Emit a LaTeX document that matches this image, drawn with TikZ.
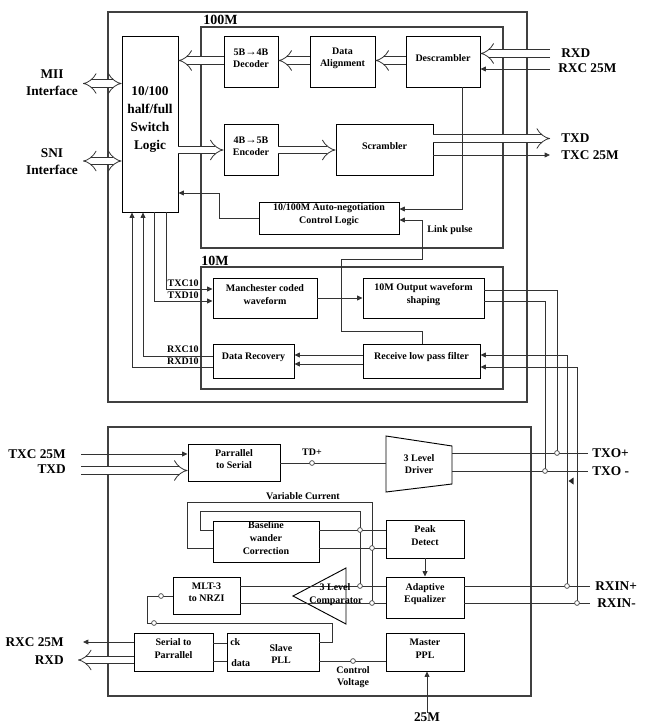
\documentclass[tikz,border=0pt]{standalone}
\usepackage{fontspec}
\setmainfont{Liberation Serif}
\usetikzlibrary{arrows.meta,fit,calc}
\begin{document}
\begin{tikzpicture}[x=0.75pt,y=-0.75pt,
 box/.style={draw=black, line width=0.7pt, inner sep=0pt, align=center, font=\bfseries\fontsize{7.5}{9.5}\selectfont},
 shp/.style={draw=black, line width=0.7pt},
 grp/.style={draw=black!75, line width=0.8pt},
 big/.style={font=\bfseries\fontsize{10}{12.75}\selectfont, align=center, inner sep=0pt},
 hdr/.style={font=\bfseries\fontsize{10.5}{12}\selectfont, inner sep=0pt},
 sm/.style={font=\bfseries\fontsize{7.5}{9.5}\selectfont, align=center, inner sep=0pt},
 ln/.style={draw=black!80, line width=0.6pt},
 arr/.style={ln, -{Triangle[length=4pt,width=3.6pt]}},
 dbl/.style={draw=black!80, line width=0.6pt, double, double distance=5pt, -{Implies}},
 dbl2/.style={draw=black!80, line width=0.6pt, double, double distance=5pt, {Implies}-{Implies}},
 dot/.style={circle, draw=black!75, fill=white, line width=0.5pt, inner sep=0pt, minimum size=3.6pt},
]
\useasboundingbox (0,0) rectangle (649,723);

% ---------- group boxes ----------
\draw[grp] (108,12) rectangle (527,402);
\draw[grp] (201,27) rectangle (503,248);
\draw[grp] (201,267) rectangle (503,389);
\draw[grp] (108,427) rectangle (531,696);
\node[hdr, anchor=base west] (h100) at (203,25) {100M};
\node[hdr, anchor=base west] (h10) at (201,265) {10M};

% ---------- top blocks ----------
\node[box, fit={(122,36)(178,212)}, font=\bfseries\fontsize{10}{13.5}\selectfont] (sw) {10/100\\half/full\\Switch\\Logic};
\node[box, fit={(224,36)(278,87)}] (dec) {5B{\fontsize{8.5}{9}\selectfont→}4B\\Decoder};
\node[box, fit={(310,36)(375,87)}] (dal) {Data\\Alignment};
\node[box, fit={(406,36)(480,87)}] (des) {Descrambler};
\node[box, fit={(224,124)(278,175)}] (enc) {4B{\fontsize{8.5}{9}\selectfont→}5B\\Encoder};
\node[box, fit={(336,124)(433,175)}] (scr) {Scrambler};
\node[box, fit={(259,202)(399,234)}] (an) {10/100M Auto-negotiation\\Control Logic};
\node[box, fit={(213,278)(317,318)}] (man) {Manchester coded\\waveform};
\node[box, fit={(363,278)(484,318)}] (ows) {10M Output waveform\\shaping};
\node[box, fit={(213,344)(294,378)}] (drec) {Data Recovery};
\node[box, fit={(363,344)(480,378)}] (rlp) {Receive low pass filter};

% ---------- top labels ----------
\node[big] (mii) at (52,82.5) {MII\\Interface};
\node[big] (sni) at (52,162) {SNI\\Interface};
\node[big, anchor=west] (lrxd) at (561,53) {RXD};
\node[big, anchor=west] (lrxc) at (558,68) {RXC 25M};
\node[big, anchor=west] (ltxd) at (561,138) {TXD};
\node[big, anchor=west] (ltxc) at (561,155) {TXC 25M};
\node[sm] (lp) at (450,230) {Link pulse};
\node[sm, anchor=east] (ltxc10) at (199,283) {TXC10};
\node[sm, anchor=east] (ltxd10) at (199,295) {TXD10};
\node[sm, anchor=east] (lrxc10) at (199,349) {RXC10};
\node[sm, anchor=east] (lrxd10) at (199,361) {RXD10};

% ---------- top connectors ----------
\coordinate (miiE) at (83,83.5);
\coordinate (sniE) at (83,161);
\draw[dbl2] (miiE) -- (sw.west |- miiE);
\draw[dbl2] (sniE) -- (sw.west |- sniE);
\draw[dbl] (dec.west |- 0,60.5) -- (sw.east |- 0,60.5);
\draw[dbl] (dal.west |- 0,60.5) -- (dec.east |- 0,60.5);
\draw[dbl] (des.west |- 0,60.5) -- (dal.east |- 0,60.5);
\coordinate (rxdE) at (550,53.5);
\coordinate (rxcE) at (550,69);
\draw[dbl] (rxdE) -- (des.east |- rxdE);
\draw[arr] (rxcE) -- (des.east |- rxcE);
\draw[dbl] (sw.east |- 0,150) -- (enc.west |- 0,150);
\draw[dbl] (enc.east |- 0,150) -- (scr.west |- 0,150);
\coordinate (txdE) at (550,138.5);
\coordinate (txcE) at (550,155);
\draw[dbl] (scr.east |- txdE) -- (txdE);
\draw[arr] (scr.east |- txcE) -- (txcE);
\draw[arr] (des.south -| 462,0) -- (462,209) -- (an.east |- 0,209);
\draw[arr] (an.west |- 0,218) -- (219,218) -- (219,193) -- (sw.east |- 0,193);
\draw[arr] (rlp.north -| 422,0) -- (422,331) -- (341,331) -- (341,259) -- (422,259) -- (422,220) -- (an.east |- 0,220);
% 10M <-> switch
\draw[arr] (drec.west |- 0,367) -- (132,367) -- (sw.south -| 132,0);
\draw[arr] (drec.west |- 0,356) -- (143,356) -- (sw.south -| 143,0);
\draw[arr] (sw.south -| 154,0) -- (154,301) -- (man.west |- 0,301);
\draw[arr] (sw.south -| 166,0) -- (166,289) -- (man.west |- 0,289);
\draw[arr] (man.east |- 0,298) -- (ows.west |- 0,298);
\draw[arr] (rlp.west |- 0,355) -- (drec.east |- 0,355);
\draw[arr] (rlp.west |- 0,364) -- (drec.east |- 0,364);

% ---------- bottom blocks ----------
\node[box, fit={(188,444)(280,481)}] (p2s) {Parrallel\\to Serial};
\draw[shp] (386,436) -- (452,446) -- (452,484) -- (386,492) -- cycle;
\node[sm] (drv) at (419,464) {3 Level\\Driver};
\node[box, fit={(213,521)(319,562)}] (bwc) {Baseline\\wander\\Correction};
\node[box, fit={(386,520)(464,558)}] (pd) {Peak\\Detect};
\node[box, fit={(386,577)(464,618)}] (ae) {Adaptive\\Equalizer};
\draw[shp] (293,596) -- (346,568) -- (346,624) -- cycle;
\node[box, fit={(173,577)(240,614)}] (mlt) {MLT-3\\to NRZI};
\node[box, fit={(134,633)(213,671)}] (s2p) {Serial to\\Parrallel};
\node[box, fit={(227,633)(319,671)}] (pll) {};
\node[sm] (pllt) at (281,654) {Slave\\PLL};
\node[sm, anchor=west] (ck) at (230,642) {ck};
\node[sm, anchor=west] (dat) at (231,663) {data};
\node[box, fit={(386,633)(464,671)}] (mpll) {Master\\PPL};

% ---------- bottom labels ----------
\node[big, anchor=east] (btxc) at (66,454) {TXC 25M};
\node[big, anchor=east] (btxd) at (66,469) {TXD};
\node[sm] (tdp) at (312,452) {TD+};
\node[big, anchor=west] (ltxop) at (592,453) {TXO+};
\node[big, anchor=west] (ltxom) at (592,471) {TXO -};
\node[sm] (vc) at (303,496) {Variable Current};
\node[big, anchor=west] (lrxp) at (595,586) {RXIN+};
\node[big, anchor=west] (lrxm) at (597,603) {RXIN-};
\node[big, anchor=east] (brxc) at (64,642) {RXC 25M};
\node[big, anchor=east] (brxd) at (64,660) {RXD};
\node[sm] (cv) at (353,677) {Control\\Voltage};
\node[big, anchor=south] (m25) at (427,722) {25M};

% ---------- bottom connectors ----------
\coordinate (btxcE) at (81,454);
\coordinate (btxdE) at (81,470.5);
\draw[arr] (btxcE) -- (p2s.west |- btxcE);
\draw[dbl] (btxdE) -- (p2s.west |- btxdE);
\draw[ln] (p2s.east |- 0,463) -- (386,463);
\node[dot] (d1) at (312,463) {};
\coordinate (txopE) at (588,453);
\coordinate (txomE) at (588,471);
\draw[ln] (452,453) -- (txopE);
\draw[ln] (452,471) -- (txomE);
% 10M output to TXO
\draw[ln] (ows.east |- 0,290) -- (557,290) -- (557,453);
\draw[ln] (ows.east |- 0,301) -- (545,301) -- (545,471);
\node[dot] (d2) at (557,453) {};
\node[dot] (d3) at (545,471) {};
% RXIN to receive low pass filter
\coordinate (rxpE) at (590,586);
\coordinate (rxmE) at (590,603);
\draw[ln] (ae.east |- rxpE) -- (rxpE);
\draw[ln] (ae.east |- rxmE) -- (rxmE);
\draw[arr] (567,586) -- (567,355) -- (rlp.east |- 0,355);
\draw[arr] (577,603) -- (577,367) -- (rlp.east |- 0,367);
\node[dot] (d4) at (567,586) {};
\node[dot] (d5) at (577,603) {};
\fill[black!85] (568.5,481) -- (573.5,477.5) -- (573.5,484.5) -- cycle;
% baseline loops
\draw[ln] (bwc.west |- 0,548) -- (187,548) -- (187,502) -- (372,502) -- (372,603);
\draw[ln] (bwc.west |- 0,530) -- (200,530) -- (200,511) -- (360,511) -- (360,586);
\draw[ln] (bwc.east |- 0,530) -- (pd.west |- 0,530);
\draw[ln] (bwc.east |- 0,548) -- (pd.west |- 0,548);
\draw[arr] (pd.south -| 425,0) -- (ae.north -| 425,0);
\draw[ln] (mlt.east |- 0,586) -- (ae.west |- 0,586);
\draw[ln] (mlt.east |- 0,603) -- (ae.west |- 0,603);
\node[dot] (d6) at (360,530) {};
\node[dot] (d7) at (372,548) {};
\node[dot] (d8) at (360,586) {};
\node[dot] (d9) at (372,603) {};
\node[sm] (cmpa) at (335,587) {3 Level};
\node[sm] (cmpb) at (336,601) {Comparator};
% MLT loop
\draw[ln] (pll.east |- 0,642) -- (332,642) -- (332,623) -- (147,623) -- (147,596) -- (mlt.west |- 0,596);
\node[dot] (d10) at (161,596) {};
\node[dot] (d11) at (154,623) {};
% S2P / PLL
\draw[ln] (s2p.east |- 0,643) -- (pll.west |- 0,643);
\draw[ln] (s2p.east |- 0,661) -- (pll.west |- 0,661);
\coordinate (brxcE) at (83,642);
\coordinate (brxdE) at (78,660);
\draw[arr] (s2p.west |- brxcE) -- (brxcE);
\draw[dbl] (s2p.west |- brxdE) -- (brxdE);
\draw[ln] (pll.east |- 0,661) -- (mpll.west |- 0,661);
\node[dot] (d12) at (353,661) {};
\draw[arr] (m25.north) -- (mpll.south -| m25.north);
\end{tikzpicture}
\end{document}
